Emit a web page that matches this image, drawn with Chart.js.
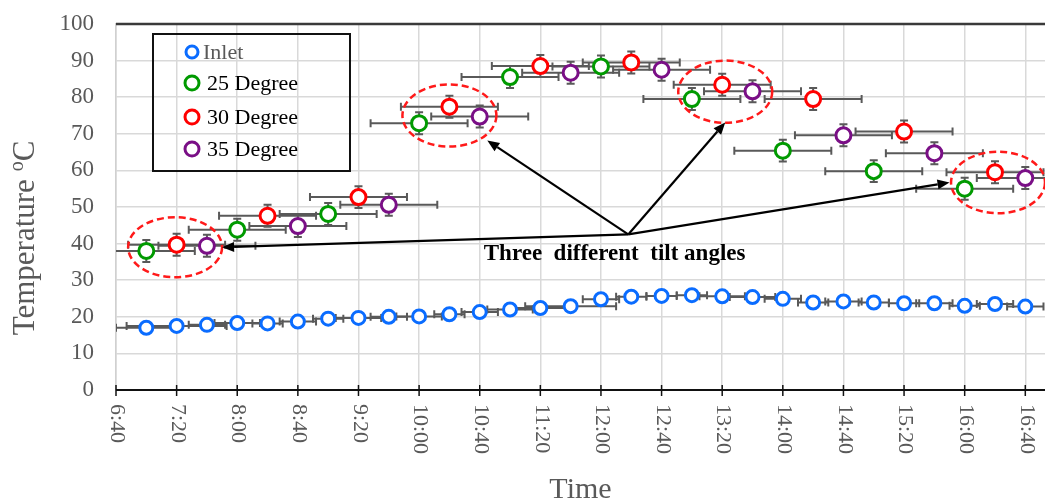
<!DOCTYPE html>
<html>
<head>
<meta charset="utf-8">
<script src="https://cdn.jsdelivr.net/npm/chart.js@4.4.1/dist/chart.umd.min.js"></script>
<style>
  html, body { margin: 0; padding: 0; background: #ffffff; }
  #wrap { width: 1045px; height: 504px; }
</style>
</head>
<body>
<div id="wrap"><canvas id="c" width="1045" height="504"></canvas></div>
<script>
// ---------- DATA ----------
const inletTimes = ['7:00','7:20','7:40','8:00','8:20','8:40','9:00','9:20','9:40','10:00',
                    '10:20','10:40','11:00','11:20','11:40','12:00','12:20','12:40','13:00','13:20',
                    '13:40','14:00','14:20','14:40','15:00','15:20','15:40','16:00','16:20','16:40'];
const inletTemp  = [17.0,17.5,17.8,18.3,18.2,18.7,19.5,19.7,20.0,20.1,
                    20.7,21.3,22.0,22.4,22.9,24.8,25.5,25.7,25.9,25.6,
                    25.4,24.9,23.9,24.2,23.9,23.7,23.7,23.0,23.5,22.8];
const inletTimeErr = [20,33,12,15,10,12,10,15,12,15,
                      10,12,15,20,30,12,10,10,10,15,
                      15,12,10,12,10,10,12,10,12,12];
const inletTempErr = [0.6,0.6,0.6,0.6,0.6,0.6,0.6,0.6,0.6,0.6,
                      0.6,0.6,0.6,0.6,0.6,0.6,0.6,0.6,0.6,0.6,
                      0.6,0.6,0.6,0.6,0.6,0.6,0.6,0.6,0.6,0.6];

const deg25Times = ['7:00','8:00','9:00','10:00','11:00','12:00','13:00','14:00','15:00','16:00'];
const deg25Temp  = [38.0,43.8,48.1,72.9,85.5,88.4,79.5,65.4,59.8,55.0];
const deg30Times = ['7:20','8:20','9:20','10:20','11:20','12:20','13:20','14:20','15:20','16:20'];
const deg30Temp  = [39.7,47.6,52.7,77.4,88.5,89.5,83.4,79.5,70.6,59.5];
const deg35Times = ['7:40','8:40','9:40','10:40','11:40','12:40','13:40','14:40','15:40','16:40'];
const deg35Temp  = [39.4,44.8,50.6,74.7,86.7,87.5,81.6,69.6,64.7,57.9];
const degTimeErr = [32,32,32,32,32,32,32,32,32,32];
const degTempErr = [3,3,3,3,3,3,3,3,3,3];

const seriesLabels = ['Inlet', '25 Degree', '30 Degree', '35 Degree'];
const yTickValues = [0,10,20,30,40,50,60,70,80,90,100];
const xTickLabels = ['6:40','7:20','8:00','8:40','9:20','10:00','10:40','11:20','12:00','12:40',
                     '13:20','14:00','14:40','15:20','16:00','16:40'];

// annotation anchors (time, temperature)
const annoEllipses = [
  {t: '7:19',  v: 39.0, rt: 31, rv: 8.2},
  {t: '10:20', v: 75.0, rt: 31, rv: 8.5},
  {t: '13:22', v: 81.5, rt: 31, rv: 8.5},
  {t: '16:22', v: 56.7, rt: 31, rv: 8.4}
];
const annoArrowFrom = {t: '12:18', v: 42.5};
const annoArrowTo = [
  {t: '7:50',  v: 39.0},
  {t: '10:45', v: 68.2},
  {t: '13:22', v: 73.1},
  {t: '15:50', v: 56.7}
];
const annoText = {t: '12:09', v: 37.2, text: 'Three  different  tilt angles'};

// ---------- HELPERS ----------
function toMin(s) { const p = s.split(':'); return (+p[0]) * 60 + (+p[1]); }
function fmt(m) { const h = Math.floor(m / 60), mm = m % 60; return h + ':' + (mm < 10 ? '0' : '') + mm; }
function pts(times, temps) { return times.map((t, i) => ({x: toMin(t), y: temps[i]})); }

const SERIF = "'Liberation Serif', 'Times New Roman', serif";
const GREY = '#595959';

const errs = [
  {tx: inletTimeErr, ty: inletTempErr},
  {tx: degTimeErr, ty: degTempErr},
  {tx: degTimeErr, ty: degTempErr},
  {tx: degTimeErr, ty: degTempErr}
];

const colors = ['#0a6cff', '#009a00', '#ff0000', '#7a0f86'];

const errorBarPlugin = {
  id: 'errbars',
  beforeDatasetsDraw(chart) {
    const ctx = chart.ctx, xs = chart.scales.x, ys = chart.scales.y, a = chart.chartArea;
    ctx.save();
    ctx.beginPath(); ctx.rect(a.left, a.top, a.right - a.left, a.bottom - a.top); ctx.clip();
    ctx.strokeStyle = GREY; ctx.lineWidth = 2;
    chart.data.datasets.forEach((ds, di) => {
      const e = errs[di];
      ds.data.forEach((p, i) => {
        const x0 = xs.getPixelForValue(p.x - e.tx[i]), x1 = xs.getPixelForValue(p.x + e.tx[i]);
        const y = ys.getPixelForValue(p.y), xc = xs.getPixelForValue(p.x);
        const y0 = ys.getPixelForValue(p.y - e.ty[i]), y1 = ys.getPixelForValue(p.y + e.ty[i]);
        ctx.beginPath();
        ctx.moveTo(x0, y); ctx.lineTo(x1, y);
        ctx.moveTo(x0, y - 4); ctx.lineTo(x0, y + 4);
        ctx.moveTo(x1, y - 4); ctx.lineTo(x1, y + 4);
        ctx.moveTo(xc, y0); ctx.lineTo(xc, y1);
        ctx.moveTo(xc - 4, y0); ctx.lineTo(xc + 4, y0);
        ctx.moveTo(xc - 4, y1); ctx.lineTo(xc + 4, y1);
        ctx.stroke();
      });
    });
    ctx.restore();
  }
};

const decorPlugin = {
  id: 'decor',
  afterDraw(chart) {
    const ctx = chart.ctx, xs = chart.scales.x, ys = chart.scales.y, a = chart.chartArea;
    ctx.save();
    // top border
    ctx.strokeStyle = '#3a3a3a'; ctx.lineWidth = 2.5;
    ctx.beginPath(); ctx.moveTo(a.left, a.top); ctx.lineTo(a.right, a.top); ctx.stroke();
    // bottom axis + tick marks
    ctx.strokeStyle = '#111'; ctx.lineWidth = 2;
    ctx.beginPath(); ctx.moveTo(a.left, a.bottom); ctx.lineTo(a.right, a.bottom); ctx.stroke();
    ctx.lineWidth = 1.5;
    xs.ticks.forEach(tk => {
      const x = xs.getPixelForValue(tk.value);
      ctx.beginPath(); ctx.moveTo(x, a.bottom - 5); ctx.lineTo(x, a.bottom + 6); ctx.stroke();
    });
    // x tick labels (rotated clockwise)
    ctx.fillStyle = GREY; ctx.font = '22px ' + SERIF;
    ctx.textAlign = 'left'; ctx.textBaseline = 'middle';
    xs.ticks.forEach((tk, i) => {
      const x = xs.getPixelForValue(tk.value);
      ctx.save(); ctx.translate(x + 1, a.bottom + 14); ctx.rotate(Math.PI / 2);
      ctx.fillText(xTickLabels[i] !== undefined ? xTickLabels[i] : fmt(tk.value), 0, 0);
      ctx.restore();
    });
    // x title
    ctx.font = '30px ' + SERIF; ctx.textAlign = 'center'; ctx.textBaseline = 'middle';
    ctx.fillText('Time', (a.left + a.right) / 2, 490);
    // y title with superscript o
    ctx.save();
    ctx.translate(24, 238); ctx.rotate(-Math.PI / 2);
    const big = '31px ' + SERIF, small = '20px ' + SERIF;
    ctx.font = big; const w1 = ctx.measureText('Temperature ').width, w3 = ctx.measureText('C').width;
    ctx.font = small; const w2 = ctx.measureText('o').width;
    let sx = -(w1 + w2 + w3) / 2;
    ctx.textAlign = 'left'; ctx.textBaseline = 'alphabetic';
    ctx.font = big; ctx.fillText('Temperature ', sx, 10); sx += w1;
    ctx.font = small; ctx.fillText('o', sx, -1); sx += w2;
    ctx.font = big; ctx.fillText('C', sx, 10);
    ctx.restore();

    // ellipses
    ctx.strokeStyle = '#ff1a1a'; ctx.lineWidth = 2.5; ctx.setLineDash([7, 4]);
    annoEllipses.forEach(e => {
      const cx = xs.getPixelForValue(toMin(e.t)), cy = ys.getPixelForValue(e.v);
      const rx = xs.getPixelForValue(toMin(e.t) + e.rt) - cx;
      const ry = cy - ys.getPixelForValue(e.v + e.rv);
      ctx.beginPath(); ctx.ellipse(cx, cy, rx, ry, 0, 0, Math.PI * 2); ctx.stroke();
    });
    ctx.setLineDash([]);
    // arrows
    const fx = xs.getPixelForValue(toMin(annoArrowFrom.t)), fy = ys.getPixelForValue(annoArrowFrom.v);
    ctx.strokeStyle = '#000'; ctx.fillStyle = '#000'; ctx.lineWidth = 2.2;
    annoArrowTo.forEach(p => {
      const tx = xs.getPixelForValue(toMin(p.t)), ty = ys.getPixelForValue(p.v);
      const ang = Math.atan2(ty - fy, tx - fx);
      const hl = 12, hw = 5;
      const bx = tx - hl * Math.cos(ang), by = ty - hl * Math.sin(ang);
      ctx.beginPath(); ctx.moveTo(fx, fy); ctx.lineTo(bx, by); ctx.stroke();
      ctx.beginPath();
      ctx.moveTo(tx, ty);
      ctx.lineTo(bx + hw * Math.sin(ang), by - hw * Math.cos(ang));
      ctx.lineTo(bx - hw * Math.sin(ang), by + hw * Math.cos(ang));
      ctx.closePath(); ctx.fill();
    });
    // annotation text
    ctx.font = 'bold 23px ' + SERIF; ctx.textAlign = 'center'; ctx.textBaseline = 'middle';
    ctx.fillText(annoText.text, xs.getPixelForValue(toMin(annoText.t)), ys.getPixelForValue(annoText.v));

    // legend box
    ctx.strokeStyle = '#111'; ctx.lineWidth = 2;
    ctx.strokeRect(153, 34, 197, 137);
    const rows = [52, 83, 117, 149];
    chart.data.datasets.forEach((ds, i) => {
      ctx.beginPath();
      ctx.arc(192, rows[i], i === 0 ? 6 : 7, 0, Math.PI * 2);
      ctx.fillStyle = '#fff'; ctx.fill();
      ctx.strokeStyle = ds.borderColor; ctx.lineWidth = 3; ctx.stroke();
      ctx.fillStyle = i === 0 ? GREY : '#000';
      ctx.font = '22px ' + SERIF; ctx.textAlign = 'left'; ctx.textBaseline = 'middle';
      ctx.fillText(ds.label, i === 0 ? 203 : 207, rows[i] + 1);
    });
    ctx.restore();
  }
};

const mk = (label, data, color, r) => ({
  label, data, borderColor: color, backgroundColor: '#ffffff',
  pointRadius: r, pointBorderWidth: 3, pointHoverRadius: r, showLine: false
});

new Chart(document.getElementById('c'), {
  type: 'scatter',
  data: {
    datasets: [
      mk(seriesLabels[0], pts(inletTimes, inletTemp), colors[0], 6.5),
      mk(seriesLabels[1], pts(deg25Times, deg25Temp), colors[1], 7.5),
      mk(seriesLabels[2], pts(deg30Times, deg30Temp), colors[2], 7.5),
      mk(seriesLabels[3], pts(deg35Times, deg35Temp), colors[3], 7.5)
    ]
  },
  options: {
    responsive: false, animation: false,
    layout: {autoPadding: false, padding: {top: 24, right: 0, left: 0, bottom: 0}},
    plugins: {legend: {display: false}, tooltip: {enabled: false}},
    scales: {
      x: {
        type: 'linear', min: toMin(xTickLabels[0]), max: 1013,
        afterBuildTicks: s => { s.ticks = xTickLabels.map(l => ({value: toMin(l)})); },
        afterFit: s => { s.height = 114; s.paddingLeft = 0; s.paddingRight = 0; s.paddingTop = 0; s.paddingBottom = 0; },
        ticks: {display: false},
        grid: {color: '#d9d9d9', lineWidth: 1.5, drawTicks: false},
        border: {display: false}
      },
      y: {
        min: 0, max: 100,
        afterBuildTicks: s => { s.ticks = yTickValues.map(v => ({value: v})); },
        afterFit: s => { s.width = 116; s.paddingTop = 0; s.paddingBottom = 0; s.paddingLeft = 0; s.paddingRight = 0; },
        ticks: {color: GREY, font: {family: SERIF, size: 23}, padding: 22},
        grid: {color: '#d9d9d9', lineWidth: 1.5, drawTicks: false},
        border: {color: '#d0d0d0', width: 1.5}
      }
    }
  },
  plugins: [errorBarPlugin, decorPlugin]
});
</script>
</body>
</html>
